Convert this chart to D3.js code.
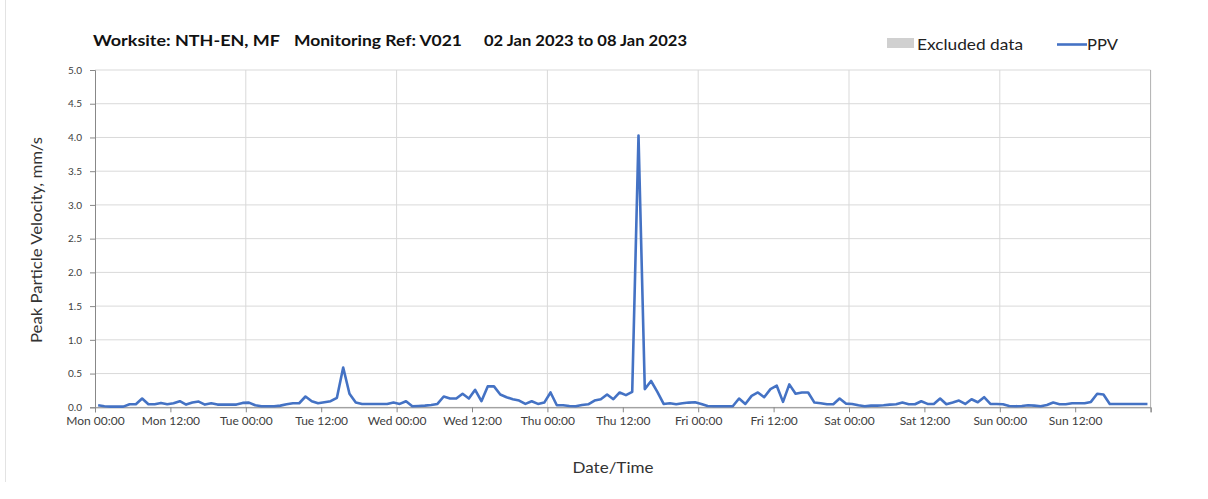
<!DOCTYPE html>
<html><head><meta charset="utf-8">
<script src="https://cdn.jsdelivr.net/npm/d3@7"></script>
<style>html,body{margin:0;padding:0;background:#fff;}svg{display:block;font-family:Lato,"Open Sans",sans-serif;}</style>
</head><body><svg id="c" width="1208" height="499"></svg>
<script>
const titleParts = ["Worksite: NTH-EN, MF", "Monitoring Ref: V021", "02 Jan 2023 to 08 Jan 2023"];
const seriesName = "PPV";
const excludedName = "Excluded data";
const yTitle = "Peak Particle Velocity, mm/s";
const xTitle = "Date/Time";
const startTime = new Date(2023, 0, 2, 0, 0);
const endTime = new Date(2023, 0, 9, 0, 0);
const yTicks = [0, 0.5, 1, 1.5, 2, 2.5, 3, 3.5, 4, 4.5, 5];
const dayNames = ["Sun","Mon","Tue","Wed","Thu","Fri","Sat"];
// hourly PPV readings (mm/s), first at 02 Jan 00:30
const ppv = [
0.03,0.015,0.01,0.01,0.01,0.045,0.045,0.13,0.045,0.045,0.065,0.045,0.06,0.09,0.04,0.07,0.085,0.04,0.06,0.04,0.04,0.04,0.04,0.065,
0.07,0.03,0.015,0.015,0.015,0.025,0.045,0.06,0.06,0.16,0.09,0.06,0.075,0.09,0.14,0.59,0.2,0.07,0.05,0.05,0.05,0.05,0.05,0.07,
0.05,0.09,0.015,0.02,0.025,0.035,0.05,0.16,0.13,0.13,0.2,0.13,0.26,0.09,0.31,0.31,0.19,0.15,0.12,0.1,0.05,0.09,0.05,0.07,
0.22,0.03,0.03,0.02,0.015,0.035,0.045,0.1,0.12,0.19,0.12,0.22,0.18,0.23,4.03,0.27,0.39,0.23,0.05,0.06,0.045,0.06,0.07,0.075,
0.05,0.02,0.015,0.015,0.015,0.015,0.13,0.05,0.17,0.22,0.15,0.27,0.32,0.08,0.34,0.2,0.22,0.22,0.07,0.06,0.045,0.045,0.13,0.055,
0.05,0.03,0.015,0.025,0.025,0.03,0.04,0.045,0.07,0.045,0.045,0.09,0.05,0.05,0.13,0.045,0.07,0.1,0.05,0.12,0.075,0.15,0.05,0.05,
0.045,0.02,0.015,0.02,0.03,0.025,0.015,0.035,0.07,0.045,0.045,0.06,0.06,0.06,0.08,0.2,0.19,0.05,0.05,0.05,0.05,0.05,0.05,0.05
];
const times = ppv.map((v,i)=>new Date(startTime.getTime() + (i+0.5)*3600000));

const svg = d3.select("#c");
const L = 95, R = 1150.6, T = 70, B = 407.3;
const x = d3.scaleTime().domain([startTime, endTime]).range([L, R]);
const y = d3.scaleLinear().domain([0, 5]).range([B, T]);

// faint outer border
svg.append("line").attr("x1",5.5).attr("x2",5.5).attr("y1",0).attr("y2",482).attr("stroke","#e3e3e3");

// gridlines
const dayTicks = d3.timeDay.range(startTime, d3.timeDay.offset(endTime,1));
svg.append("g").selectAll("line").data(yTicks).join("line")
  .attr("x1",L).attr("x2",R).attr("y1",d=>y(d)).attr("y2",d=>y(d))
  .attr("stroke","#d9d9d9").attr("stroke-width",1);
svg.append("g").selectAll("line").data(dayTicks.slice(1)).join("line")
  .attr("x1",d=>x(d)).attr("x2",d=>x(d)).attr("y1",T).attr("y2",B)
  .attr("stroke",(d,i,a)=>i===a.length-1?"#b0b0b0":"#d9d9d9").attr("stroke-width",1);

// axes
const xTickVals = d3.timeHour.every(12).range(startTime, d3.timeHour.offset(endTime,1));
const xAxis = d3.axisBottom(x).tickValues(xTickVals).tickSize(5).tickPadding(4)
  .tickFormat(d => d.getTime() >= endTime.getTime() ? "" : dayNames[d.getDay()] + " " + d3.timeFormat("%H:%M")(d));
const gx = svg.append("g").attr("transform",`translate(0,${B})`).call(xAxis);
gx.select(".domain").attr("stroke","#888");
gx.selectAll(".tick line").attr("stroke","#888");
gx.selectAll(".tick text").attr("fill","#404040").style("font-size","12px").style("font-family","Lato, sans-serif");

const yAxis = d3.axisLeft(y).tickValues(yTicks).tickSize(5).tickPadding(8).tickFormat(d3.format(".1f"));
const gy = svg.append("g").attr("transform",`translate(${L},0)`).call(yAxis);
gy.select(".domain").attr("stroke","#888");
gy.selectAll(".tick line").attr("stroke","#888");
gy.selectAll(".tick text").attr("fill","#404040").style("font-size","10px").style("font-family","Lato, sans-serif");

// line
const line = d3.line().x((d,i)=>x(times[i])).y(d=>y(d));
svg.append("path").datum(ppv).attr("d",line).attr("fill","none")
  .attr("stroke","#4472C4").attr("stroke-width",2.6).attr("stroke-linejoin","round");

// title
const titleX = [93, 294, 484];
const titleW = [187, 168, 203];
svg.append("g").selectAll("text").data(titleParts).join("text")
  .attr("x",(d,i)=>titleX[i]).attr("y",46).text(d=>d)
  .attr("textLength",(d,i)=>titleW[i]).attr("lengthAdjust","spacingAndGlyphs")
  .style("font-weight","bold").style("font-size","15px").attr("fill","#111");

// legend
svg.append("rect").attr("x",887).attr("y",38).attr("width",27).attr("height",10).attr("fill","#d0d0d0");
svg.append("text").attr("x",917).attr("y",50).text(excludedName)
  .attr("textLength",106).attr("lengthAdjust","spacingAndGlyphs")
  .style("font-size","16px").attr("fill","#222");
svg.append("line").attr("x1",1057).attr("x2",1087).attr("y1",44.5).attr("y2",44.5)
  .attr("stroke","#4472C4").attr("stroke-width",2.6);
svg.append("text").attr("x",1087).attr("y",50).text(seriesName)
  .attr("textLength",31).attr("lengthAdjust","spacingAndGlyphs")
  .style("font-size","16px").attr("fill","#222");

// axis titles
svg.append("text").attr("transform","translate(42,240) rotate(-90)").attr("text-anchor","middle")
  .text(yTitle).attr("textLength",206).attr("lengthAdjust","spacingAndGlyphs")
  .style("font-size","16px").attr("fill","#333");
svg.append("text").attr("x",613).attr("y",473).attr("text-anchor","middle")
  .text(xTitle).attr("textLength",81).attr("lengthAdjust","spacingAndGlyphs")
  .style("font-size","16px").attr("fill","#333");
</script></body></html>
